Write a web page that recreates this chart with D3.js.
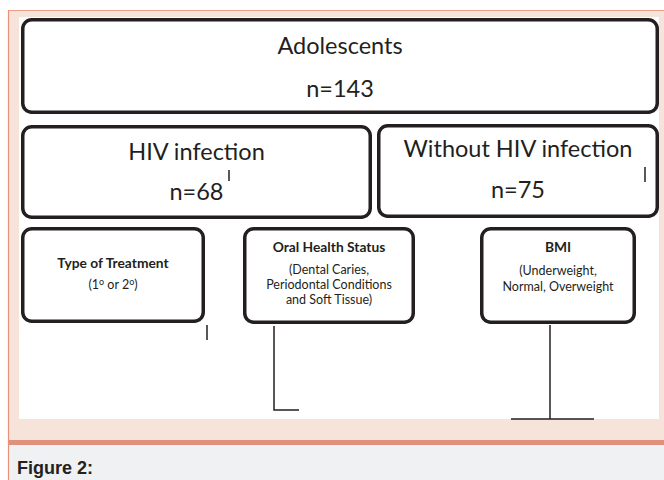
<!DOCTYPE html>
<html>
<head>
<meta charset="utf-8">
<script src="https://cdn.jsdelivr.net/npm/d3@7"></script>
<style>
  body { margin: 0; background: #fff; }
  svg { display: block; }
</style>
</head>
<body>
<div id="chart"></div>
<script>
// flowchart content
const groupNames = ["Adolescents", "HIV infection", "Without HIV infection"];
const groupCounts = [143, 68, 75];
const outcomeTitles = ["Type of Treatment", "Oral Health Status", "BMI"];
const outcomeDetails = [
    ["(1º or 2º)"],
    ["(Dental Caries,", "Periodontal Conditions", "and Soft Tissue)"],
    ["(Underweight,", "Normal, Overweight"]
];
const caption = "Figure 2:";

const width = 664;
const height = 480;
const ink = "#231f20";
const boxFont = "Lato, 'Open Sans', sans-serif";

// box geometry (outer edges) and text baselines
const groupLayout = [
    { x0: 21, x1: 659, y0: 18, y1: 114, nameY: 54, countY: 97 },
    { x0: 21, x1: 372, y0: 125, y1: 219, nameY: 160, countY: 200 },
    { x0: 377, x1: 659, y0: 124, y1: 218, nameY: 157, countY: 198 }
];
const outcomeLayout = [
    { x0: 21, x1: 205, y0: 227, y1: 323, titleY: 268, lineYs: [289] },
    { x0: 243, x1: 415, y0: 227, y1: 324, titleY: 252, lineYs: [274, 289.2, 304.4] },
    { x0: 480, x1: 636, y0: 227, y1: 324, titleY: 252, lineYs: [275, 291] }
];

const svg = d3.select("#chart")
    .append("svg")
    .attr("width", width)
    .attr("height", height);

// page frame
svg.append("rect").attr("x", 8).attr("y", 10).attr("width", width - 8).attr("height", 430).attr("fill", "#f6e4db");
svg.append("rect").attr("x", 19).attr("y", 17).attr("width", 640).attr("height", 402).attr("fill", "#fff");
svg.append("rect").attr("x", 8).attr("y", 440).attr("width", width - 8).attr("height", 5).attr("fill", "#e0917b");
svg.append("rect").attr("x", 8).attr("y", 445).attr("width", width - 8).attr("height", 35).attr("fill", "#eff1f3");
svg.append("line").attr("x1", 8).attr("x2", width).attr("y1", 10.5).attr("y2", 10.5)
    .attr("stroke", "#eba08c").attr("stroke-width", 1);
svg.append("line").attr("x1", 8.5).attr("x2", 8.5).attr("y1", 10).attr("y2", height)
    .attr("stroke", "#e8927c").attr("stroke-width", 1.2);

svg.append("text")
    .attr("x", 17)
    .attr("y", 474)
    .attr("font-family", "'Liberation Sans', Arial, sans-serif")
    .attr("font-weight", "bold")
    .attr("font-size", 18)
    .attr("fill", "#222")
    .text(caption);

const sw = 3.5;
function drawBox(l) {
    svg.append("rect")
        .attr("x", l.x0 + sw / 2)
        .attr("y", l.y0 + sw / 2)
        .attr("width", l.x1 - l.x0 - sw)
        .attr("height", l.y1 - l.y0 - sw)
        .attr("rx", 9)
        .attr("fill", "#fff")
        .attr("stroke", ink)
        .attr("stroke-width", sw);
}

// population boxes
groupNames.forEach((name, i) => {
    const l = groupLayout[i];
    drawBox(l);
    const cx = (l.x0 + l.x1) / 2;
    svg.append("text")
        .attr("x", cx).attr("y", l.nameY)
        .attr("text-anchor", "middle")
        .attr("font-family", boxFont)
        .attr("font-size", 23.5)
        .attr("fill", ink)
        .text(name);
    svg.append("text")
        .attr("x", cx).attr("y", l.countY)
        .attr("text-anchor", "middle")
        .attr("font-family", boxFont)
        .attr("font-size", 23.5)
        .attr("fill", ink)
        .text("n=" + groupCounts[i]);
});

// outcome boxes
outcomeTitles.forEach((title, i) => {
    const l = outcomeLayout[i];
    drawBox(l);
    const cx = (l.x0 + l.x1) / 2;
    svg.append("text")
        .attr("x", cx).attr("y", l.titleY)
        .attr("text-anchor", "middle")
        .attr("font-family", boxFont)
        .attr("font-weight", "bold")
        .attr("font-size", 13.8)
        .attr("fill", ink)
        .text(title);
    outcomeDetails[i].forEach((line, j) => {
        const t = svg.append("text")
            .attr("x", cx).attr("y", l.lineYs[j])
            .attr("text-anchor", "middle")
            .attr("font-family", boxFont)
            .attr("font-size", 12.5)
            .attr("fill", ink);
        // "º" is drawn as a raised small o
        const parts = line.split("º");
        parts.forEach((p, k) => {
            const span = t.append("tspan").text(p);
            if (k > 0) span.attr("dy", 4);
            if (k < parts.length - 1) {
                t.append("tspan").attr("dy", -4).attr("font-size", 9).text("o");
            }
        });
    });
});

// connector fragments
const connectors = [
    "M229,170V181",
    "M645,167V182",
    "M207,325V340",
    "M274,326V410H299",
    "M550,325V419",
    "M511,419H594"
];
svg.selectAll(".connector")
    .data(connectors)
    .enter()
    .append("path")
    .attr("class", "connector")
    .attr("d", d => d)
    .attr("fill", "none")
    .attr("stroke", ink)
    .attr("stroke-width", 1.5);
</script>
</body>
</html>
